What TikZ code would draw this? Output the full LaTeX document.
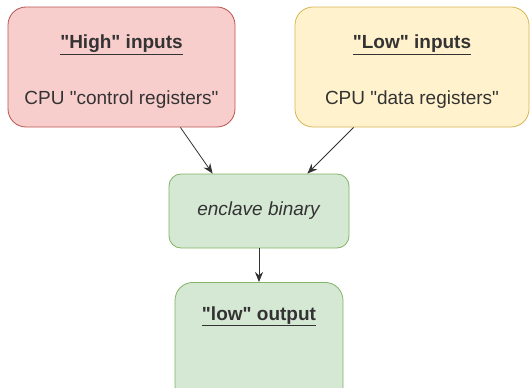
\documentclass[tikz,border=0pt]{standalone}
\usepackage{fontspec}
\setmainfont{Liberation Sans}[Ligatures=TeXOff]
\usetikzlibrary{arrows.meta}

\definecolor{highfill}{HTML}{F8CECC}
\definecolor{highline}{HTML}{B85450}
\definecolor{lowfill}{HTML}{FFF2CC}
\definecolor{lowline}{HTML}{D6B656}
\definecolor{okfill}{HTML}{D5E8D4}
\definecolor{okline}{HTML}{82B366}
\definecolor{ink}{HTML}{333333}

\begin{document}
\begin{tikzpicture}[x=1pt, y=-1pt,
    box/.style={rectangle, rounded corners=18pt, line width=0.8pt,
      text=ink, align=center, font=\fontsize{19}{22}\selectfont},
    link/.style={-{Stealth[length=10pt,width=8pt]}, draw=ink, line width=0.8pt}]

  \clip (0,0) rectangle (531,388);
  \useasboundingbox (0,0) rectangle (531,388);

  %===== Inputs =====%
  \node[box, fill=highfill, draw=highline, minimum width=227pt, minimum height=120pt]
    (high) at (121.5,67)
    {\rule{0pt}{23pt}\underline{\textbf{"High" inputs}}\\[34pt]CPU "control registers"};
  \node[box, fill=lowfill, draw=lowline, minimum width=234pt, minimum height=120pt]
    (low) at (412,67)
    {\rule{0pt}{23pt}\underline{\textbf{"Low" inputs}}\\[34pt]CPU "data registers"};

  %===== Enclave =====%
  \node[box, rounded corners=12pt, fill=okfill, draw=okline,
    minimum width=180pt, minimum height=74pt]
    (enclave) at (259,211) {\textit{enclave binary}};

  %===== Output (runs off the bottom) =====%
  \node[box, fill=okfill, draw=okline, anchor=north, minimum width=168pt,
    inner ysep=24pt, text depth=60pt]
    (output) at (259,282) {\underline{\textbf{"low" output}}};

  % connectors
  \draw[link] ([xshift=-55pt]high.south east) -- ([xshift=44pt]enclave.north west);
  \draw[link] ([xshift=59pt]low.south west) -- ([xshift=-42pt]enclave.north east);
  \draw[link] (enclave.south) -- (output.north);
\end{tikzpicture}
\end{document}
